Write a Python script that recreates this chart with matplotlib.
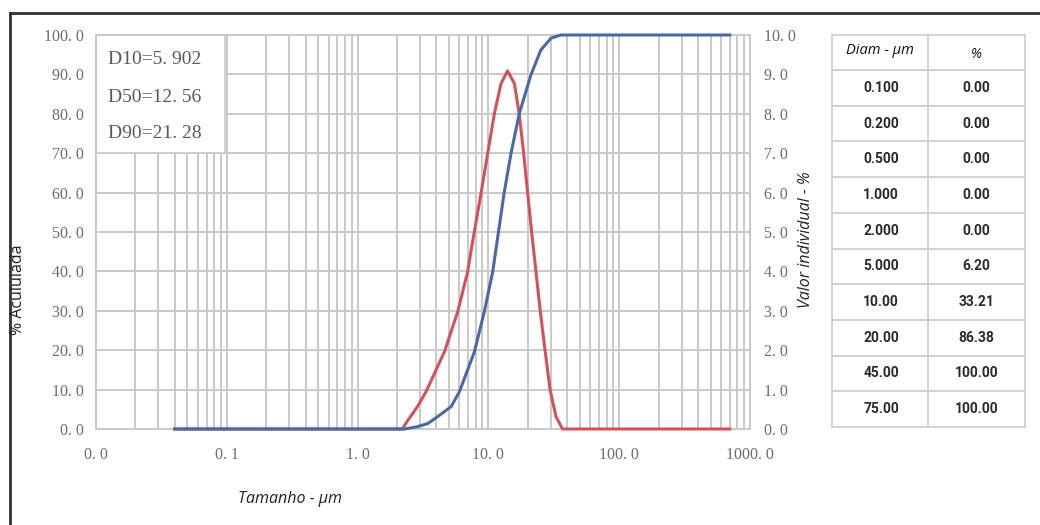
import matplotlib
matplotlib.use("Agg")
import matplotlib.pyplot as plt
from matplotlib.patches import Rectangle
from matplotlib.ticker import FixedLocator, LogLocator, NullFormatter

# ---- data ----
size_cum = [0.04, 2.3, 2.87, 3.44, 4.08, 5.19, 6.01, 7.82, 9.31, 10.8, 13.2, 14.9, 17.2,
            21.2, 25.2, 30.1, 35.9, 700]
cum_pct = [0, 0, 0.6, 1.4, 3.1, 5.7, 9.5, 19.6, 29.8, 40, 60, 70, 80,
           90, 96.2, 99.2, 100, 100]

size_ind = [0.04, 2.21, 2.29, 2.87, 3.34, 3.87, 4.61, 5.83, 6.95, 7.38, 8.80, 9.88, 11.1,
            12.5, 14.0, 15.8, 17.2, 18.6, 19.95, 21.4, 23.1, 24.9, 27.1, 29.6, 32.9, 36.9, 700]
ind_pct = [0, 0, 0.1, 0.57, 0.95, 1.41, 1.96, 2.98, 4.0, 4.54, 6.0, 7.0, 8.0,
           8.77, 9.09, 8.77, 8.0, 7.0, 6.0, 5.0, 4.0, 3.0, 2.0, 1.0, 0.31, 0.0, 0.0]

x_ticks = [0.01, 0.1, 1, 10, 100, 1000]
x_ticklabels = ["0. 0", "0. 1", "1. 0", "10. 0", "100. 0", "1000. 0"]
y_left_ticks = [0, 10, 20, 30, 40, 50, 60, 70, 80, 90, 100]
y_right_ticks = [0, 1, 2, 3, 4, 5, 6, 7, 8, 9, 10]

d_labels = ["D10=5. 902", "D50=12. 56", "D90=21. 28"]

table_header = ["Diam - µm", "%"]
table_diam = ["0.100", "0.200", "0.500", "1.000", "2.000", "5.000", "10.00", "20.00", "45.00", "75.00"]
table_pct = ["0.00", "0.00", "0.00", "0.00", "0.00", "6.20", "33.21", "86.38", "100.00", "100.00"]

# ---- style ----
W, H = 1040, 525
fig = plt.figure(figsize=(W / 100, H / 100), dpi=100)
fig.patch.set_facecolor("white")

grid_c = "#c9c9c9"
tick_c = "#6c6c6c"
serif = ["Liberation Serif", "DejaVu Serif"]
sans = ["Open Sans", "DejaVu Sans"]

ax = fig.add_axes([96 / W, 1 - 429 / H, (750 - 96) / W, (429 - 35) / H])
ax.set_xscale("log")
ax.set_xlim(0.01, 1000)
ax.set_ylim(0, 100)
ax2 = ax.twinx()
ax2.set_ylim(0, 10)

ax.xaxis.set_major_locator(FixedLocator(x_ticks))
ax.set_xticklabels(x_ticklabels)
ax.xaxis.set_minor_locator(LogLocator(base=10, subs=range(2, 10), numticks=20))
ax.xaxis.set_minor_formatter(NullFormatter())
ax.set_yticks(y_left_ticks)
ax.set_yticklabels([f"{v:.1f}".replace(".", ". ") for v in y_left_ticks])
ax2.set_yticks(y_right_ticks)
ax2.set_yticklabels([f"{v:.1f}".replace(".", ". ") for v in y_right_ticks])

ax.set_axisbelow(True)
ax.grid(True, which="both", axis="x", color=grid_c, lw=1.4)
ax.grid(True, which="major", axis="y", color=grid_c, lw=1.4)

for s in ax.spines.values():
    s.set_color(grid_c)
    s.set_linewidth(1.4)
for s in ax2.spines.values():
    s.set_visible(False)
for a in (ax, ax2):
    a.tick_params(which="both", length=0, labelcolor=tick_c, labelsize=11.5)
    for lab in a.get_xticklabels() + a.get_yticklabels():
        lab.set_fontfamily(serif)
ax.tick_params(axis="x", pad=13)
ax.tick_params(axis="y", pad=9)
ax2.tick_params(axis="y", pad=10)

# D-value box covering the grid
ax.add_patch(Rectangle((0, 0.70), 0.197, 0.30, transform=ax.transAxes,
                       facecolor="white", edgecolor=grid_c, lw=1.2, zorder=2))
for yy, t in zip([0.937, 0.842, 0.750], d_labels):
    ax.text(0.018, yy, t, transform=ax.transAxes, fontsize=14,
            family=serif, color="#585858", va="center", ha="left", zorder=3)

# curves (red on the right-hand scale, drawn beneath the blue line)
ax.plot(size_ind, ind_pct, color="#d4505c", lw=2.2, zorder=3, transform=ax2.transData,
        clip_on=False)
ax.plot(size_cum, cum_pct, color="#4b68a6", lw=2.2, zorder=4, clip_on=False)

# axis labels
fig.text(18 / W, 1 - 290 / H, "% Acululada", rotation=90, fontsize=11.5,
         family=sans, color="#222222", ha="center", va="center")
fig.text(806 / W, 1 - 240 / H, "Valor individual - %", rotation=90, fontsize=11.5,
         style="italic", family=sans, color="#222222", ha="center", va="center")
fig.text(290 / W, 1 - 499 / H, "Tamanho - µm", fontsize=11.5, style="italic",
         family=sans, color="#222222", ha="center", va="center")

# table
tx0, tx1, tx2 = 832, 928, 1025
ty0, thead = 35, 70
row_h = (427 - 70) / len(table_diam)
tab_c = "#cfcfcf"
tax = fig.add_axes([0, 0, 1, 1])
tax.set_xlim(0, W)
tax.set_ylim(H, 0)
tax.axis("off")
tax.patch.set_alpha(0)
ybot = thead + row_h * len(table_diam)
for xx in (tx0, tx1, tx2):
    tax.plot([xx, xx], [ty0, ybot], color=tab_c, lw=1.3)
tax.plot([tx0, tx2], [ty0, ty0], color=tab_c, lw=1.3)
tax.plot([tx0, tx2], [thead, thead], color=tab_c, lw=1.3)
for i in range(len(table_diam)):
    yb = thead + row_h * (i + 1)
    tax.plot([tx0, tx2], [yb, yb], color=tab_c, lw=1.3)
tax.text((tx0 + tx1) / 2, (ty0 + thead) / 2 - 2, table_header[0], style="italic",
         fontsize=10.5, family=sans, color="#111111", ha="center", va="center")
tax.text((tx1 + tx2) / 2, (ty0 + thead) / 2 + 2, table_header[1], style="italic",
         fontsize=10, family=sans, color="#111111", ha="center", va="center")
body_font = ["Roboto", "DejaVu Sans"]
for i, (d, p) in enumerate(zip(table_diam, table_pct)):
    yc = thead + row_h * (i + 0.5)
    tax.text((tx0 + tx1) / 2 + 1, yc, d, fontsize=10, weight="bold", family=body_font,
             color="#2a2a2a", ha="center", va="center")
    tax.text((tx1 + tx2) / 2, yc, p, fontsize=10, weight="bold", family=body_font,
             color="#2a2a2a", ha="center", va="center")

# outer frame
tax.plot([10, 10], [13, H + 5], color="#333333", lw=2.0, clip_on=False)
tax.plot([10, W + 5], [13, 13], color="#333333", lw=2.0, clip_on=False)

fig.savefig("out.png", dpi=100)
